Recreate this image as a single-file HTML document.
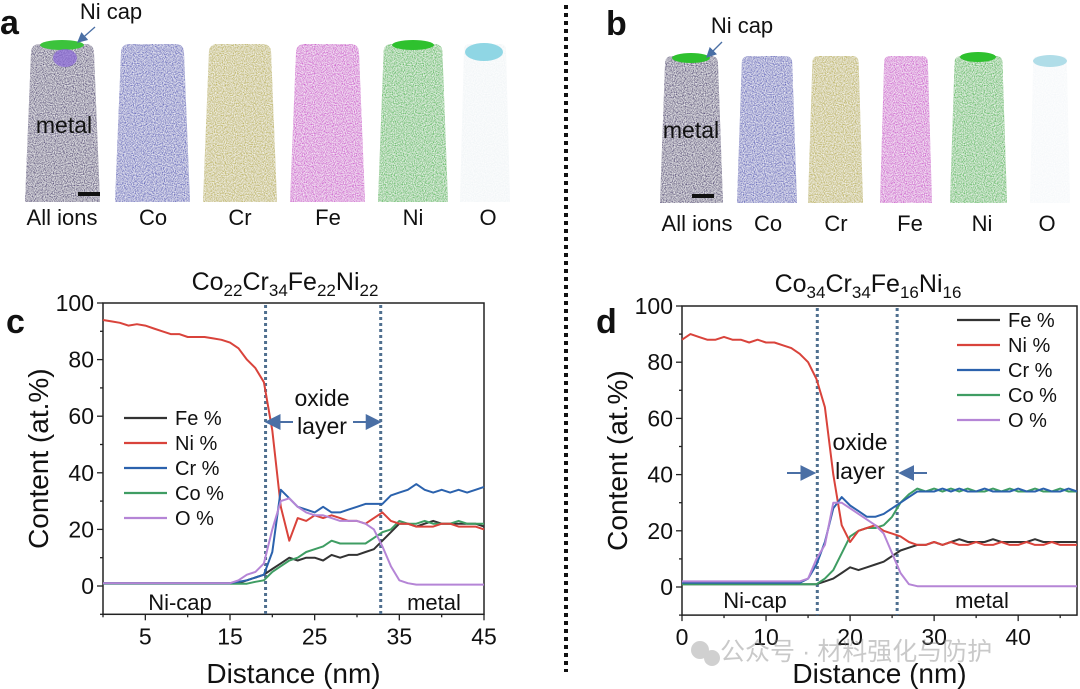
<!DOCTYPE html>
<html><head><meta charset="utf-8"><style>
body{margin:0;background:#fff;}
svg{display:block;font-family:"Liberation Sans","Noto Sans CJK SC",sans-serif;}
</style></head><body>
<svg id="fig" width="1080" height="689" viewBox="0 0 1080 689" xmlns="http://www.w3.org/2000/svg">
<defs>
<filter id="grain" x="0" y="0" width="100%" height="100%"><feTurbulence type="fractalNoise" baseFrequency="0.9" numOctaves="1" seed="3" result="n"/><feColorMatrix in="n" type="matrix" values="0 0 0 0 1  0 0 0 0 1  0 0 0 0 1  0 0 0 -1.6 1.2" result="w"/><feComposite in="w" in2="SourceGraphic" operator="in" result="wm"/><feMerge><feMergeNode in="SourceGraphic"/><feMergeNode in="wm"/></feMerge></filter>
<marker id="ah" markerWidth="8" markerHeight="8" refX="7" refY="4" orient="auto"><path d="M0,0 L8,4 L0,8 z" fill="#4a6fa5"/></marker>
</defs>
<g id="tops"></g>
<line x1="566" y1="5" x2="566" y2="672" stroke="#111" stroke-width="4" stroke-dasharray="4,4"/>
<g id="chartC"></g>
<g id="chartD"></g>
<g opacity="0.45">
<circle cx="700" cy="650" r="9" fill="#999"/><circle cx="712" cy="658" r="8" fill="#999"/>
<text x="720" y="660" font-size="25" fill="#888">公众号 · 材料强化与防护</text>
</g>
</svg>
<script>
const NS='http://www.w3.org/2000/svg';
function el(tag,attrs,parent,txt){const e=document.createElementNS(NS,tag);for(const k in attrs)e.setAttribute(k,attrs[k]);if(txt!==undefined)e.textContent=txt;parent.appendChild(e);return e;}

// ---------- data chart c ----------
const xsC=[...Array(46).keys()];
const niC=[94,93.5,93,92,92.5,92,91,90,89,89,88,88,88,87.5,87,86,84,80,77,72,55,28,16,24,23,25,24,25,24,23,23,22,24,26,23,22,22,21,21,21,22,22,21,21,21,20];
const crC=[1,1,1,1,1,1,1,1,1,1,1,1,1,1,1,1,1.5,2,3,4,12,34,31,28,27,26,28,26,26,27,28,29,29,29,32,33,34,36,34,33,34,33,34,33,34,35];
const oC=[1,1,1,1,1,1,1,1,1,1,1,1,1,1,1,1,2,4,5,8,20,30,31,28,26,25,25,24,23,23,23,22,20,14,7,2,1,0.5,0.5,0.5,0.5,0.5,0.5,0.5,0.5,0.5];
const feC=[1,1,1,1,1,1,1,1,1,1,1,1,1,1,1,1,1,2,3,4,6,8,10,9,10,10,9,11,10,11,11,12,13,16,19,22,22,21,22,23,22,22,22,22,22,21];
const coC=[0.8,0.8,0.8,0.8,0.8,0.8,0.8,0.8,0.8,0.8,0.8,0.8,0.8,0.8,0.8,0.8,0.8,0.8,1.5,2,5,7,9,10,12,13,14,16,15,15,15,15,17,19,20,23,22,22,23,22,22,22,23,22,22,22];
// ---------- data chart d ----------
const xsD=[...Array(48).keys()];
const niD=[88,90,89,88,88,89,88,88,87,88,87,87,86,85,83,80,74,64,40,22,16,20,21,22,20,19,18,16,15,15,16,15,16,15,15,16,15,15,16,15,15,16,15,15,16,15,15,15];
const crD=[1.5,1.5,1.5,1.5,1.5,1.5,1.5,1.5,1.5,1.5,1.5,1.5,1.5,1.5,1.5,3,8,16,28,32,29,27,25,25,26,28,30,32,34,34,34,35,34,35,34,34,35,34,34,34,35,34,34,35,34,34,35,34];
const oD=[2,2,2,2,2,2,2,2,2,2,2,2,2,2,2,3,10,15,30,30,28,26,24,22,19,12,5,1,0.3,0.3,0.3,0.3,0.3,0.3,0.3,0.3,0.3,0.3,0.3,0.3,0.3,0.3,0.3,0.3,0.3,0.3,0.3,0.3];
const feD=[1,1,1,1,1,1,1,1,1,1,1,1,1,1,1,1,1,2,3,5,7,6,7,8,9,11,13,14,15,15,16,15,16,17,16,16,16,17,16,16,16,16,17,16,16,16,16,16];
const coD=[1,1,1,1,1,1,1,1,1,1,1,1,1,1,1,1,1,3,6,12,18,20,21,21,22,25,30,33,35,34,35,34,35,34,35,34,34,35,34,35,34,34,35,34,34,35,34,34];
const seriesNames=['Fe %','Ni %','Cr %','Co %','O %'];
const seriesColors=['#333333','#d9433b','#2b62ad','#3f9d63','#b585d6'];
const xTicksC=[5,15,25,35,45];
const xTicksD=[0,10,20,30,40];
const yTicks=[0,20,40,60,80,100];

function chart(g,cfg){
  const X=v=>cfg.left+(v-cfg.x0)/(cfg.x1-cfg.x0)*(cfg.right-cfg.left);
  const Y=v=>cfg.y0px+(v-0)/(100)*(cfg.y100px-cfg.y0px);
  const bottom=Y(-10);
  const fr=el('rect',{x:cfg.left,y:Y(100),width:cfg.right-cfg.left,height:bottom-Y(100),fill:'none',stroke:'#222','stroke-width':1.5},g);
  
  for(let v=-10;v<=100;v+=10){const major=v%20===0;el('line',{x1:cfg.left,x2:cfg.left-(major?6:3),y1:Y(v),y2:Y(v),stroke:'#222','stroke-width':1.3},g);}
  yTicks.forEach(v=>{const t=el('text',{x:cfg.left-9,y:Y(v)+8,'font-size':23,'text-anchor':'end',fill:'#111'},g,String(v));});
  for(let v=cfg.minorStart;v<=cfg.x1+0.01;v+=5){if(v<cfg.x0)continue;const major=cfg.xTicks.includes(v);el('line',{x1:X(v),x2:X(v),y1:bottom,y2:bottom+(major?6:3),stroke:'#222','stroke-width':1.3},g);}
  cfg.xTicks.forEach(v=>{const t=el('text',{x:X(v),y:bottom+30,'font-size':23,'text-anchor':'middle',fill:'#111'},g,String(v));});
  cfg.bounds.forEach(b=>{const l=el('line',{x1:X(b),x2:X(b),y1:Y(100)+2,y2:bottom,stroke:'#4f6f8f','stroke-width':3,'stroke-dasharray':'3,3'},g);});
  const order=[0,3,1,2,4];
  const data=cfg.series;
  order.forEach(i=>{const d=data[i].map((v,k)=>(k?'L':'M')+X(cfg.xs[k]).toFixed(1)+','+Y(v).toFixed(1)).join('');
    const p=el('path',{d:d,fill:'none',stroke:seriesColors[i],'stroke-width':2,'stroke-linejoin':'round'},g);
    });
  const lg=el('g',{},g);
  seriesNames.forEach((n,i)=>{const yy=cfg.legY+i*25;
    el('line',{x1:cfg.legX,x2:cfg.legX+43,y1:yy,y2:yy,stroke:seriesColors[i],'stroke-width':2.2},lg);
    const t=el('text',{x:cfg.legX+51,y:yy+7,'font-size':20,fill:'#111'},lg,n);});
  const yt=el('text',{x:0,y:0,'font-size':28,'text-anchor':'middle',fill:'#111',transform:`translate(${cfg.left-55},${(Y(100)+bottom)/2}) rotate(-90)`},g,'Content (at.%)');
  
  const xt=el('text',{x:(cfg.left+cfg.right)/2,y:683,'font-size':28,'text-anchor':'middle',fill:'#111'},g,'Distance (nm)');
  
  return {X,Y};
}

const gc=document.getElementById('chartC');
const c=chart(gc,{left:103,right:484,x0:0,x1:45,y0px:586,y100px:303,xs:xsC,series:[feC,niC,crC,coC,oC],xTicks:xTicksC,minorStart:0,bounds:[19.2,32.8],legX:124,legY:418});
const gd=document.getElementById('chartD');
const d=chart(gd,{left:682,right:1077,x0:0,x1:47,y0px:587,y100px:306,xs:xsD,series:[feD,niD,crD,coD,oD],xTicks:xTicksD,minorStart:0,bounds:[16.1,25.6],legX:957,legY:320});

function txt(g,x,y,s,size,name,anchor,weight){const t=el('text',{x:x,y:y,'font-size':size,fill:'#111','text-anchor':anchor||'middle','font-weight':weight||'normal'},g,s);return t;}
function subTitle(g,x,y,parts,name){const t=el('text',{x:x,y:y,'font-size':25,'text-anchor':'middle',fill:'#111'},g);
  parts.forEach(([e1,n],i)=>{const a={};if(i>0)a.dy=-6;el('tspan',a,t,e1);el('tspan',{'font-size':17,dy:6},t,n);});}
subTitle(gc,285,290,[['Co','22'],['Cr','34'],['Fe','22'],['Ni','22']],'chart-title');
subTitle(gd,868,292,[['Co','34'],['Cr','34'],['Fe','16'],['Ni','16']],'chart-title');
txt(gc,6,333,'c',34,'panel-label-c','start','bold');
txt(gd,596,333,'d',34,'panel-label-d','start','bold');
txt(gc,180,610,'Ni-cap',22,'region-label-ni-cap');
txt(gc,434,610,'metal',22,'region-label-metal');
txt(gd,755,608,'Ni-cap',22,'region-label-ni-cap');
txt(gd,982,608,'metal',22,'region-label-metal');
txt(gc,322,406,'oxide',23,'oxide-label');
txt(gc,322,434,'layer',23,'oxide-label');
txt(gd,860,450,'oxide',23,'oxide-label');
txt(gd,860,479,'layer',23,'oxide-label');
const arrows=[[gc,293,422,c.X(19.2)+1,422],[gc,353,422,c.X(32.8)-1,422],[gd,787,473,d.X(16.1)-3,473],[gd,927,473,d.X(25.6)+3,473]];
arrows.forEach(a=>{const l=el('line',{x1:a[1],y1:a[2],x2:a[3],y2:a[4],stroke:'#4a6fa5','stroke-width':2,'marker-end':'url(#ah)'},a[0]);});

// ---------- top tip reconstructions ----------
const gt=document.getElementById('tops');
function tip(x1,x2,top,bottom,fill,name,op){
  const w=x2-x1,ins=w*0.08,r=w*0.12;
  const dd=`M${x1},${bottom} L${x1+ins},${top+r} Q${x1+ins},${top} ${x1+ins+r},${top} L${x2-ins-r},${top} Q${x2-ins},${top} ${x2-ins},${top+r} L${x2},${bottom} Z`;
  const p=el('path',{d:dd,fill:fill,filter:'url(#grain)',opacity:op||1},gt);
}
const panelA=[[25,100,'#55487a'],[115,190,'#6468be'],[203,277,'#bdb458'],[290,365,'#cf5ccf'],[378,448,'#5cbc5e']];
const labelsA=['All ions','Co','Cr','Fe','Ni','O'];
panelA.forEach((t,i)=>tip(t[0],t[1],44,202,t[2],'tip-'+labelsA[i].toLowerCase().replace(' ','-')));
tip(460,510,44,202,'#f1f5f7','tip-o');
el('ellipse',{cx:484,cy:52,rx:19,ry:9,fill:'#8fd6e4'},gt);
el('ellipse',{cx:62,cy:45,rx:22,ry:5,fill:'#3cc33c'},gt);
el('ellipse',{cx:65,cy:58,rx:12,ry:9,fill:'#8a68d8',opacity:0.7},gt);
el('ellipse',{cx:413,cy:45,rx:21,ry:5,fill:'#2ec12e'},gt);
el('rect',{x:78,y:192,width:22,height:4,fill:'#111'},gt);
[62,153,240,328,413,488].forEach((x,i)=>txt(gt,x,225,labelsA[i],22,'tip-label'));
const panelB=[[660,723,'#55487a'],[737,797,'#6468be'],[808,863,'#bdb458'],[880,932,'#cf5ccf'],[950,1007,'#5cbc5e']];
panelB.forEach((t,i)=>tip(t[0],t[1],56,203,t[2],'tip-'+labelsA[i].toLowerCase().replace(' ','-')));
tip(1030,1070,56,203,'#f5f8fa','tip-o');
el('ellipse',{cx:1050,cy:61,rx:17,ry:6,fill:'#b0dde8'},gt);
el('ellipse',{cx:691,cy:58,rx:19,ry:5,fill:'#2ec12e'},gt);
el('ellipse',{cx:978,cy:57,rx:18,ry:5,fill:'#2ec12e'},gt);
el('rect',{x:692,y:194,width:22,height:4,fill:'#111'},gt);
[697,768,836,910,982,1047].forEach((x,i)=>txt(gt,x,231,labelsA[i],22,'tip-label'));
txt(gt,64,133,'metal',23,'metal-label');
txt(gt,691,138,'metal',23,'metal-label');
txt(gt,0,34,'a',34,'panel-label-a','start','bold');
txt(gt,606,35,'b',34,'panel-label-b','start','bold');
txt(gt,111,19,'Ni cap',22,'ni-cap-label');
txt(gt,742,33,'Ni cap',22,'ni-cap-label');
[[gt,95,27,78,42],[gt,722,42,707,57]].forEach(a=>{const l=el('line',{x1:a[1],y1:a[2],x2:a[3],y2:a[4],stroke:'#4a6fa5','stroke-width':1.3,'marker-end':'url(#ah)'},a[0]);});
</script>
</body></html>
